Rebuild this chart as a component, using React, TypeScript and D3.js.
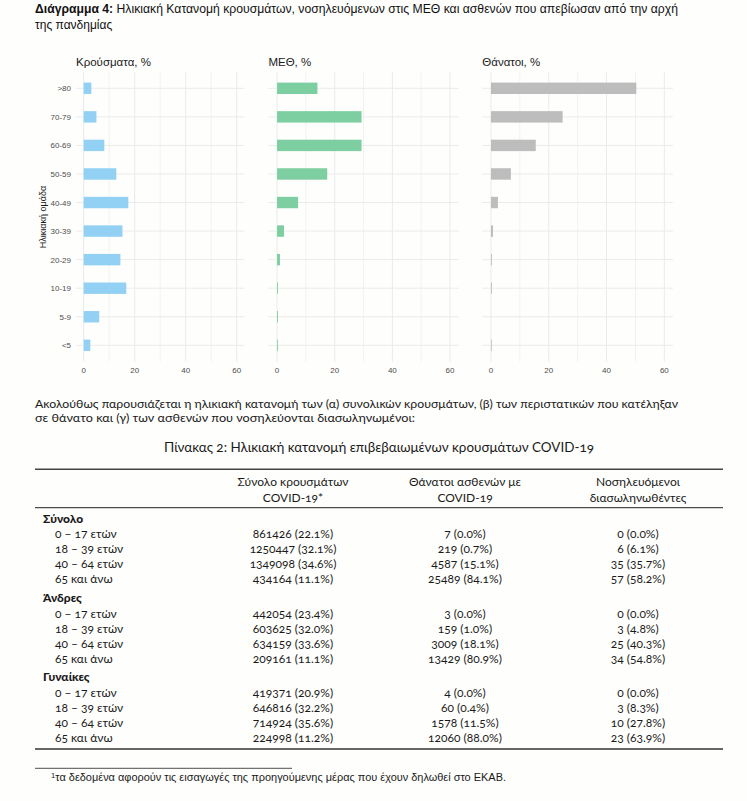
import * as d3 from 'd3';

const ageGroups = ['<5', '5-9', '10-19', '20-29', '30-39', '40-49', '50-59', '60-69', '70-79', '>80'];
const casesPct = [2.6, 6.1, 16.7, 14.4, 15.2, 17.5, 12.8, 8.1, 5.0, 3.0];
const icuPct = [0.3, 0.3, 0.3, 1.0, 2.4, 7.3, 17.4, 29.3, 29.3, 14.0];
const deathsPct = [0.2, 0, 0.3, 0.3, 0.7, 2.4, 6.9, 15.5, 24.8, 50.3];
const majorTicks = [0, 20, 40, 60];
const minorTicks = [10, 30, 50];

const sectionNames = ['Σύνολο', 'Άνδρες', 'Γυναίκες'];
const rowLabels = ['0 – 17 ετών', '18 – 39 ετών', '40 – 64 ετών', '65 και άνω'];
const headerCases = ['Σύνολο κρουσμάτων', 'COVID-19*'];
const headerDeaths = ['Θάνατοι ασθενών με', 'COVID-19'];
const headerIntub = ['Νοσηλευόμενοι', 'διασωληνωθέντες'];

const totalCases = ['861426 (22.1%)', '1250447 (32.1%)', '1349098 (34.6%)', '434164 (11.1%)'];
const totalDeaths = ['7 (0.0%)', '219 (0.7%)', '4587 (15.1%)', '25489 (84.1%)'];
const totalIntub = ['0 (0.0%)', '6 (6.1%)', '35 (35.7%)', '57 (58.2%)'];
const menCases = ['442054 (23.4%)', '603625 (32.0%)', '634159 (33.6%)', '209161 (11.1%)'];
const menDeaths = ['3 (0.0%)', '159 (1.0%)', '3009 (18.1%)', '13429 (80.9%)'];
const menIntub = ['0 (0.0%)', '3 (4.8%)', '25 (40.3%)', '34 (54.8%)'];
const womenCases = ['419371 (20.9%)', '646816 (32.2%)', '714924 (35.6%)', '224998 (11.2%)'];
const womenDeaths = ['4 (0.0%)', '60 (0.4%)', '1578 (11.5%)', '12060 (88.0%)'];
const womenIntub = ['0 (0.0%)', '3 (8.3%)', '10 (27.8%)', '23 (63.9%)'];

const W = 747;
const H = 801;
const chartFont = '"Liberation Sans", Arial, sans-serif';
const docFont = 'Lato, "Open Sans", sans-serif';

const panels = [
  { title: 'Κρούσματα, %', values: casesPct, color: '#92d1f3', left: 76, right: 244.4, showY: true },
  { title: 'ΜΕΘ, %', values: icuPct, color: '#7dcea1', left: 268.4, right: 458.7, showY: false },
  { title: 'Θάνατοι, %', values: deathsPct, color: '#bdbdbd', left: 482.3, right: 673, showY: false },
];

const yScale = d3.scalePoint<string>().domain([...ageGroups].reverse()).range([88.3, 345.3]);
const barH = yScale.step() * 0.4;
const plotTop = 72.3;
const plotBottom = 361.7;

function Panel({ p }: { p: (typeof panels)[number] }) {
  const x = d3.scaleLinear().domain([-3, 63]).range([p.left, p.right]);
  return (
    <g>
      <text x={p.left} y={66} fontSize={11.5} fontFamily={chartFont} fill="#1a1a1a">
        {p.title}
      </text>
      {minorTicks.map((t) => (
        <line key={'m' + t} x1={x(t)} x2={x(t)} y1={plotTop} y2={plotBottom} stroke="#efefef" strokeWidth={0.8} />
      ))}
      {majorTicks.map((t) => (
        <line key={'M' + t} x1={x(t)} x2={x(t)} y1={plotTop} y2={plotBottom} stroke="#ebebeb" strokeWidth={1} />
      ))}
      {ageGroups.map((g) => (
        <line key={'h' + g} x1={p.left} x2={p.right} y1={yScale(g)} y2={yScale(g)} stroke="#ebebeb" strokeWidth={1} />
      ))}
      {ageGroups.map((g, i) =>
        p.values[i] > 0 ? (
          <rect
            key={'b' + g}
            x={x(0)}
            y={(yScale(g) as number) - barH / 2}
            width={Math.max(x(p.values[i]) - x(0), 0.8)}
            height={barH}
            fill={p.color}
          />
        ) : null
      )}
      {majorTicks.map((t) => (
        <text key={'t' + t} x={x(t)} y={373} fontSize={8} textAnchor="middle" fill="#4d4d4d" fontFamily={chartFont}>
          {t}
        </text>
      ))}
      {p.showY &&
        ageGroups.map((g) => (
          <text
            key={'y' + g}
            x={71}
            y={(yScale(g) as number) + 3}
            fontSize={8}
            textAnchor="end"
            fill="#4d4d4d"
            fontFamily={chartFont}
          >
            {g}
          </text>
        ))}
      {p.showY && (
        <text
          transform={`translate(46,${(plotTop + plotBottom) / 2}) rotate(-90)`}
          textAnchor="middle"
          fontSize={9}
          fill="#1a1a1a"
          fontFamily={chartFont}
        >
          Ηλικιακή ομάδα
        </text>
      )}
    </g>
  );
}

const colCenters = [293, 465, 638];
const sectionCols = [
  [totalCases, totalDeaths, totalIntub],
  [menCases, menDeaths, menIntub],
  [womenCases, womenDeaths, womenIntub],
];
const numStyle = { fontVariantNumeric: 'oldstyle-nums' } as React.CSSProperties;

function Table() {
  const headY = [518.3, 597.7, 676.7];
  const rowStep = 15.1;
  return (
    <g fontFamily={docFont} fill="#1a1a1a">
      <text x={379} y={452} fontSize={14} textAnchor="middle" style={numStyle} textLength={430} lengthAdjust="spacingAndGlyphs">
        Πίνακας 2: Ηλικιακή κατανομή επιβεβαιωμένων κρουσμάτων COVID-19
      </text>
      <line x1={35} x2={723} y1={469.3} y2={469.3} stroke="#444" strokeWidth={1.6} />
      {[headerCases, headerDeaths, headerIntub].map((h, c) =>
        h.map((line, k) => (
          <text key={c + '-' + k} x={colCenters[c]} y={486 + k * 15.6} fontSize={12} textAnchor="middle" style={numStyle}>
            {line}
          </text>
        ))
      )}
      <line x1={35} x2={723} y1={507.7} y2={507.7} stroke="#222" strokeWidth={1} />
      {sectionNames.map((s, si) => (
        <g key={s}>
          <text x={43} y={headY[si] + 4.3} fontSize={12} fontWeight={900}>
            {s}
          </text>
          {rowLabels.map((r, ri) => (
            <g key={r}>
              <text x={55} y={headY[si] + 15.5 + ri * rowStep + 4.3} fontSize={12} style={numStyle}>
                {r}
              </text>
              {sectionCols[si].map((col, ci) => (
                <text
                  key={ci}
                  x={colCenters[ci]}
                  y={headY[si] + 15.5 + ri * rowStep + 4.3}
                  fontSize={12}
                  textAnchor="middle"
                  style={numStyle}
                >
                  {col[ri]}
                </text>
              ))}
            </g>
          ))}
        </g>
      ))}
      <line x1={35} x2={723} y1={749} y2={749} stroke="#666" strokeWidth={1.8} />
      <line x1={35} x2={292} y1={768.3} y2={768.3} stroke="#222" strokeWidth={0.8} />
      <text x={51} y={781} fontSize={10} fontFamily={chartFont} textLength={455} lengthAdjust="spacingAndGlyphs">
        <tspan fontSize={7} dy={-3}>1</tspan>
        <tspan dy={3}>τα δεδομένα αφορούν τις εισαγωγές της προηγούμενης μέρας που έχουν δηλωθεί στο ΕΚΑΒ.</tspan>
      </text>
    </g>
  );
}

export default function App() {
  return (
    <svg
      width={W}
      height={H}
      viewBox={`0 0 ${W} ${H}`}
      style={{ position: 'absolute', left: 0, top: 0, display: 'block', background: '#fefefc' }}
    >
      <rect width={W} height={H} fill="#fefefc" />
      <text x={35} y={13} fontSize={12} fontFamily={chartFont} fill="#111" textLength={643} lengthAdjust="spacingAndGlyphs">
        <tspan fontWeight="bold">Διάγραμμα 4:</tspan>
        <tspan> Ηλικιακή Κατανομή κρουσμάτων, νοσηλευόμενων στις ΜΕΘ και ασθενών που απεβίωσαν από την αρχή</tspan>
      </text>
      <text x={35} y={28.5} fontSize={12} fontFamily={chartFont} fill="#111">
        της πανδημίας
      </text>
      {panels.map((p) => (
        <Panel key={p.title} p={p} />
      ))}
      <g fontFamily={docFont} fontSize={11.6} fill="#1a1a1a">
        <text x={35} y={407.5} textLength={643} lengthAdjust="spacingAndGlyphs">
          Ακολούθως παρουσιάζεται η ηλικιακή κατανομή των (α) συνολικών κρουσμάτων, (β) των περιστατικών που κατέληξαν
        </text>
        <text x={35} y={421.5} textLength={380} lengthAdjust="spacingAndGlyphs">
          σε θάνατο και (γ) των ασθενών που νοσηλεύονται διασωληνωμένοι:
        </text>
      </g>
      <Table />
    </svg>
  );
}
